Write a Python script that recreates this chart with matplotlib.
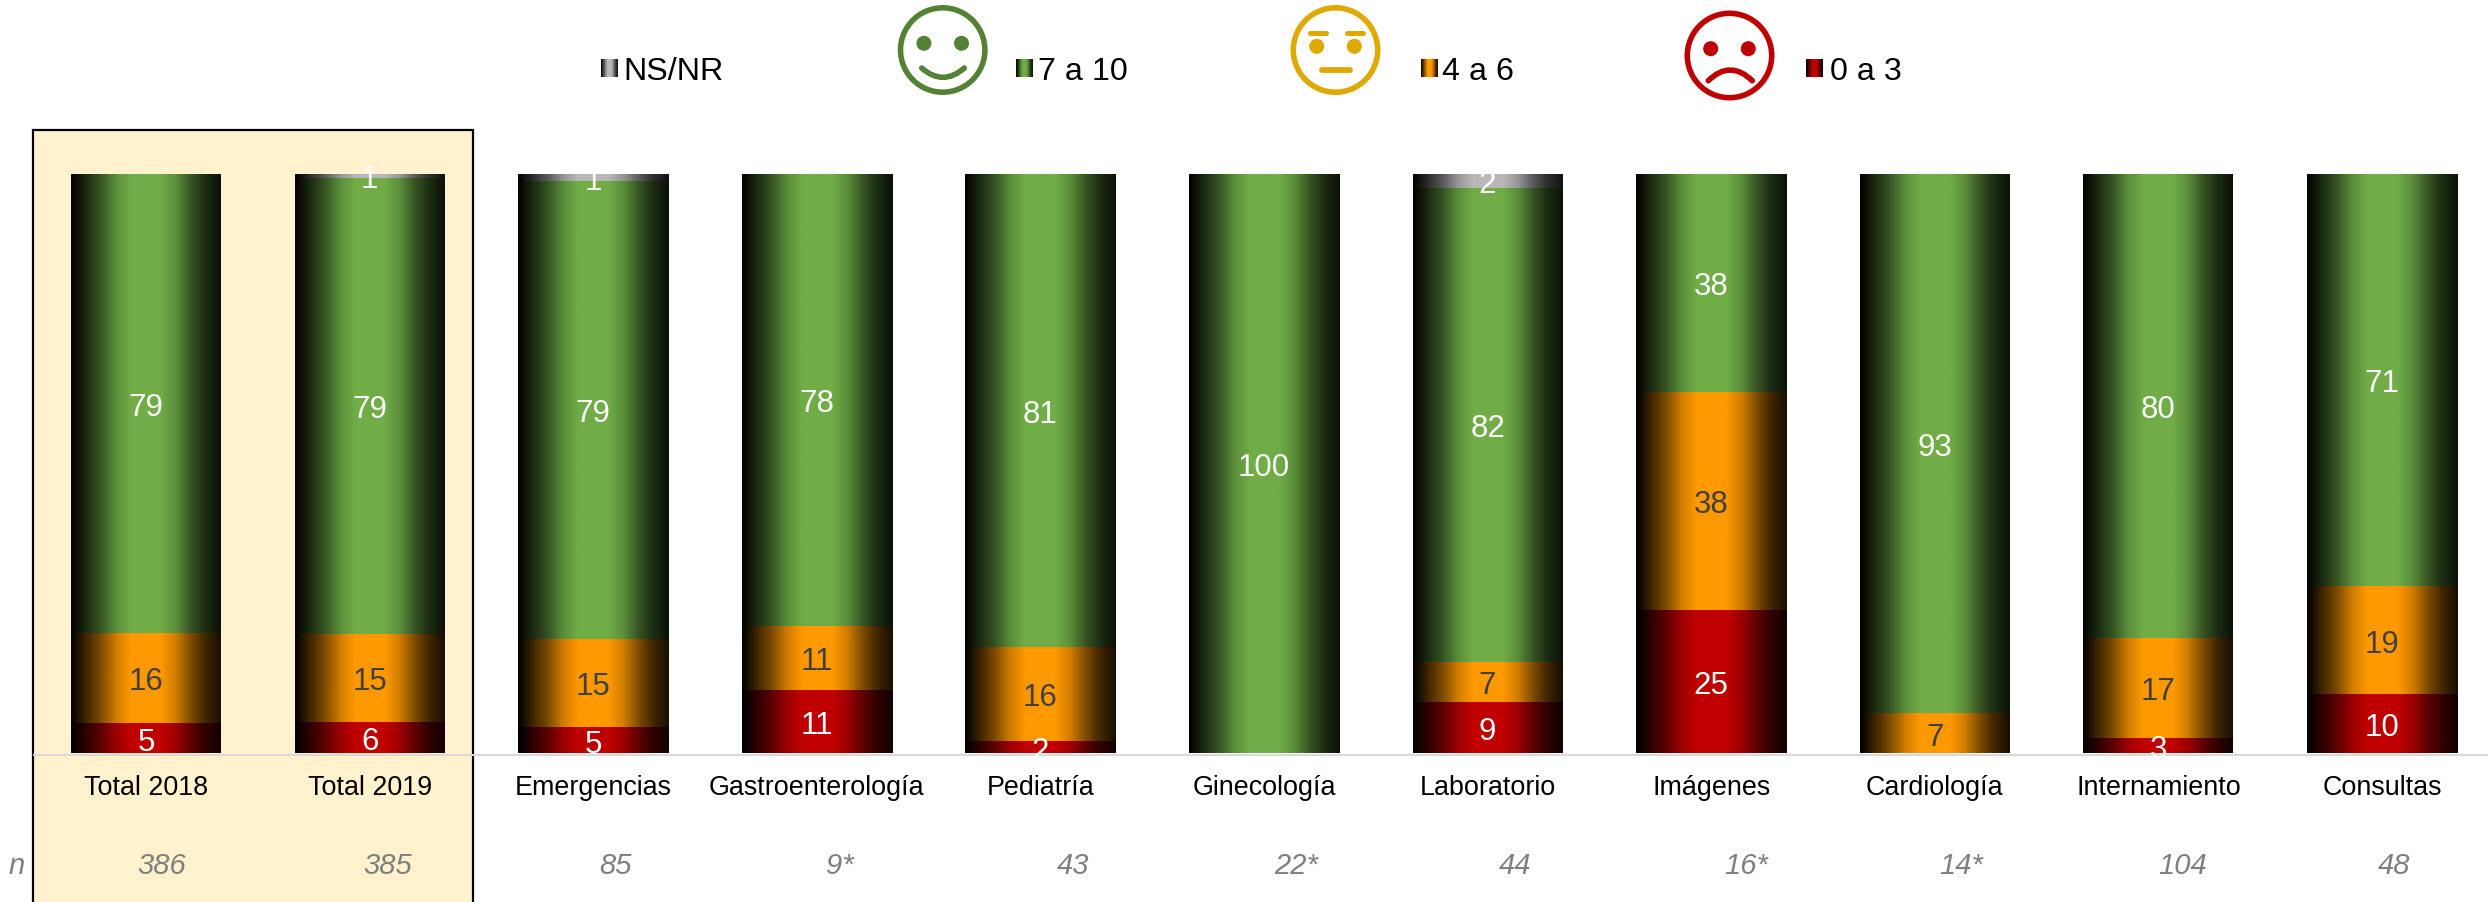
import numpy as np
import matplotlib
matplotlib.use("Agg")
import matplotlib.pyplot as plt
from matplotlib.colors import LinearSegmentedColormap, to_rgb
from matplotlib.patches import Circle, PathPatch, Rectangle
from matplotlib.path import Path

plt.rcParams['font.family'] = ['Liberation Sans', 'DejaVu Sans']

# ----------------------------------
# Data
# ----------------------------------
CATEGORIES = ["Total 2018", "Total 2019", "Emergencias", "Gastroenterología", "Pediatría",
              "Ginecología", "Laboratorio", "Imágenes", "Cardiología", "Internamiento", "Consultas"]

# segment heights
RED = [5.2, 5.4, 4.55, 10.9, 2.1, 0, 8.9, 24.75, 0, 2.65, 10.2]
ORANGE = [15.6, 15.2, 15.2, 11.1, 16.3, 0, 6.9, 37.6, 7.0, 17.3, 18.7]
GREEN = [79.2, 78.7, 79.05, 78.0, 81.6, 100, 81.8, 37.65, 93.0, 80.05, 71.1]
GREY = [0, 0.7, 1.2, 0, 0, 0, 2.4, 0, 0, 0, 0]

# printed labels
RED_LABELS = ["5", "6", "5", "11", "2", "", "9", "25", "", "3", "10"]
ORANGE_LABELS = ["16", "15", "15", "11", "16", "", "7", "38", "7", "17", "19"]
GREEN_LABELS = ["79", "79", "79", "78", "81", "100", "82", "38", "93", "80", "71"]
GREY_LABELS = ["", "1", "1", "", "", "", "2", "", "", "", ""]

N_LABELS = ["386", "385", "85", "9*", "43", "22*", "44", "16*", "14*", "104", "48"]

LEGEND_NAMES = ["NS/NR", "7 a 10", "4 a 6", "0 a 3"]

# ----------------------------------
# Layout and colours (pixels of the 2488x903 image)
# ----------------------------------
WIDTH, HEIGHT = 2488, 903
AX_LEFT, AX_TOP, AX_BOTTOM = 34.2, 174.8, 754.3
FIRST_BAR, BAR_STEP, BAR_PX = 146.0, 223.6, 150.0

N_X = [162, 388, 615, 840, 1073, 1296, 1515, 1746, 1961, 2183, 2394]
N_Y = 863

C_GREEN = "#70AD47"
C_ORANGE = "#FF9900"
C_RED = "#C00000"
C_GREY = "#B8B8B8"
C_NUM_DARK = "#404040"


def gradient_rgb(color):
    """Axial fill: black at the edges, full colour in the middle."""
    rgb = np.array(to_rgb(color))
    cmap = LinearSegmentedColormap.from_list(
        "bar", [(0, "black"), (0.1, rgb * 0.25), (0.2, rgb * 0.5), (0.3, rgb * 0.82), (0.4, rgb),
                (0.6, rgb), (0.7, rgb * 0.82), (0.8, rgb * 0.5), (0.9, rgb * 0.25), (1, rgb * 0.1)])
    return cmap(np.linspace(0, 1, 128))[None, :, :3]


def smile_curve(ax, p0, ctrl, p1, color, lw):
    path = Path([p0, ctrl, p1], [Path.MOVETO, Path.CURVE3, Path.CURVE3])
    ax.add_patch(PathPatch(path, fill=False, ec=color, lw=lw, capstyle='round'))


def face_base(ax, cx, cy, eye_y, eye_dx, color):
    ax.add_patch(Circle((cx, cy), 42.2, fill=False, ec=color, lw=4.0))
    for dx in (-eye_dx, eye_dx):
        ax.add_patch(Circle((cx + dx, eye_y), 7.5, fc=color, ec='none'))


def draw_faces(ax):
    green, yellow, red = "#548235", "#DFA900", "#C00000"

    face_base(ax, 942.7, 51, 44.3, 18.8, green)
    smile_curve(ax, (921.7, 69), (943, 87.7), (964.3, 69), green, 4.0)

    face_base(ax, 1335.5, 51, 47.3, 18.8, yellow)
    for x0, x1 in ((1309.5, 1325.5), (1346.5, 1362.5)):
        ax.plot([x0, x1], [34.3, 34.3], color=yellow, lw=3.6, solid_capstyle='round')
    ax.plot([1322, 1350], [71.3, 71.3], color=yellow, lw=4.2, solid_capstyle='round')

    face_base(ax, 1729.5, 56.5, 49.7, 18.8, red)
    smile_curve(ax, (1708.3, 81.7), (1730, 60.3), (1752.3, 81.7), red, 4.0)


def draw_legend(ax):
    swatches = [(601, C_GREY, 623.5), (1016, C_GREEN, 1038.5), (1421, C_ORANGE, 1441.5), (1806, C_RED, 1830.5)]
    for (x, color, tx), name in zip(swatches, LEGEND_NAMES):
        ax.imshow(gradient_rgb(color), extent=(x, x + 17, 78, 60), aspect='auto',
                  interpolation='bilinear')
        ax.text(tx, 69, name, fontsize=23.2, va='center_baseline', ha='left', color='black')


def main():
    fig = plt.figure(figsize=(WIDTH / 100, HEIGHT / 100), dpi=100, facecolor='white')

    # background layer in image pixels: highlight box, faces, legend, n row
    bg = fig.add_axes([0, 0, 1, 1], zorder=0)
    bg.add_patch(Rectangle((33, 131), 440, 800, fc="#FFF2CC", ec='black', lw=1.6))
    draw_faces(bg)
    draw_legend(bg)
    for x, label in zip(N_X, N_LABELS):
        bg.text(x, N_Y, label, fontsize=21, style='italic', color="#7F7F7F",
                ha='center', va='center_baseline')
    bg.text(17, N_Y, "n", fontsize=21, style='italic', color="#7F7F7F",
            ha='center', va='center_baseline')
    bg.set_xlim(0, WIDTH)
    bg.set_ylim(HEIGHT, 0)
    bg.axis('off')

    # chart layer
    ax = fig.add_axes([AX_LEFT / WIDTH, 1 - AX_BOTTOM / HEIGHT,
                       1 - AX_LEFT / WIDTH, (AX_BOTTOM - AX_TOP) / HEIGHT], zorder=1)
    ax.patch.set_visible(False)
    # set_position clears tick settings, so it comes before the ticks
    ax.spines['bottom'].set_position(('outward', 1))

    x = np.arange(len(CATEGORIES))
    bar_w = BAR_PX / BAR_STEP
    bottom = np.zeros(len(CATEGORIES))
    series = [(RED, RED_LABELS, C_RED, "white"),
              (ORANGE, ORANGE_LABELS, C_ORANGE, C_NUM_DARK),
              (GREEN, GREEN_LABELS, C_GREEN, "white"),
              (GREY, GREY_LABELS, C_GREY, "white")]

    for values, labels, color, text_color in series:
        bars = ax.bar(x, values, bar_w, bottom=bottom, color='none', linewidth=0)
        for bar, label in zip(bars, labels):
            if bar.get_height() == 0:
                continue
            x0, y0 = bar.get_x(), bar.get_y()
            ax.imshow(gradient_rgb(color), aspect='auto', interpolation='bilinear', zorder=2,
                      extent=(x0, x0 + bar.get_width(), y0, y0 + bar.get_height()))
            ax.text(x0 + bar.get_width() / 2, y0 + bar.get_height() / 2, label, fontsize=22.5,
                    color=text_color, ha='center', va='center_baseline', zorder=3)
        bottom = bottom + np.array(values)

    ax.set_xlim(-0.5, (WIDTH - FIRST_BAR) / BAR_STEP)
    ax.set_ylim(0, 100)
    ax.set_yticks([])
    ax.set_xticks(x, CATEGORIES, fontsize=19.4, color='black')
    ax.tick_params(axis='x', length=0, pad=13.7)
    for side in ('top', 'left', 'right'):
        ax.spines[side].set_visible(False)
    ax.spines['bottom'].set_color("#D9D9D9")
    ax.spines['bottom'].set_linewidth(1.5)

    fig.savefig("out.png", dpi=100)


if __name__ == "__main__":
    main()
